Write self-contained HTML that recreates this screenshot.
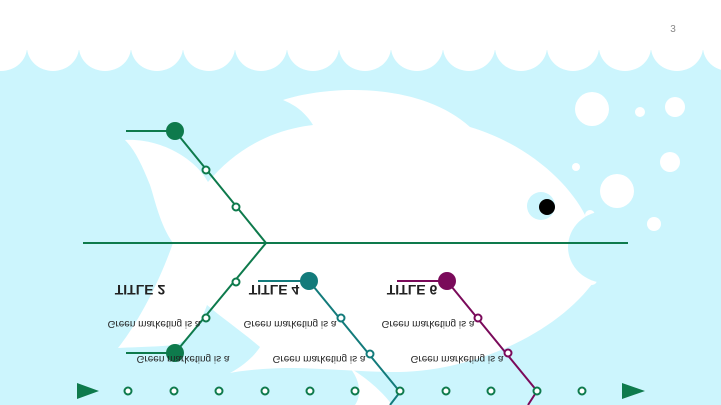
<!DOCTYPE html>
<html><head><meta charset="utf-8"><style>
html,body{margin:0;padding:0;width:721px;height:405px;overflow:hidden;background:#fff}
svg{display:block}
text{font-family:"Liberation Sans",sans-serif}
</style></head><body>
<svg width="721" height="405" viewBox="0 0 721 405" xmlns="http://www.w3.org/2000/svg">
<rect x="0" y="50" width="721" height="355" fill="#ccf5fd"/>
<g fill="#fff">
<ellipse cx="1" cy="47" rx="26" ry="24"/><ellipse cx="53" cy="47" rx="26" ry="24"/><ellipse cx="105" cy="47" rx="26" ry="24"/><ellipse cx="157" cy="47" rx="26" ry="24"/><ellipse cx="209" cy="47" rx="26" ry="24"/><ellipse cx="261" cy="47" rx="26" ry="24"/><ellipse cx="313" cy="47" rx="26" ry="24"/><ellipse cx="365" cy="47" rx="26" ry="24"/><ellipse cx="417" cy="47" rx="26" ry="24"/><ellipse cx="469" cy="47" rx="26" ry="24"/><ellipse cx="521" cy="47" rx="26" ry="24"/><ellipse cx="573" cy="47" rx="26" ry="24"/><ellipse cx="625" cy="47" rx="26" ry="24"/><ellipse cx="677" cy="47" rx="26" ry="24"/><ellipse cx="729" cy="47" rx="26" ry="24"/>
<rect x="0" y="0" width="721" height="50"/>
<circle cx="592" cy="109" r="17"/><circle cx="640" cy="112" r="5"/><circle cx="675" cy="107" r="10"/><circle cx="576" cy="167" r="4"/><circle cx="670" cy="162" r="10"/><circle cx="617" cy="191" r="17"/><circle cx="654" cy="224" r="7"/>
<!-- fish body -->
<path d="M283,100 C330,85 420,82 470,127 C530,145 570,185 585,215 L595,280 C560,330 480,370 400,372 C360,372 320,368 290,368 C270,368 245,370 230,373 C245,365 255,355 260,347 C240,330 222,318 207,305 C200,325 190,340 175,345 C155,347 135,347 118,348 C140,320 160,280 173,243 C160,225 155,200 150,185 C142,165 135,150 125,140 C160,138 195,158 208,182 C235,150 270,130 313,125 C305,112 295,105 283,100 Z"/>
<!-- bottom fin -->
<path d="M350,368 C370,380 385,395 392,405 L355,405 C362,395 360,380 350,368 Z"/>
<circle cx="590" cy="215" r="5"/><circle cx="592" cy="280" r="5"/>
</g>
<ellipse cx="606" cy="247" rx="38" ry="36" fill="#ccf5fd"/>
<circle cx="541" cy="206" r="14" fill="#ccf5fd"/>
<circle cx="547" cy="207" r="8" fill="#000"/>
<text x="673" y="32" font-size="10" fill="#888" text-anchor="middle">3</text>
<g stroke="#0e7a4c" stroke-width="2" fill="none">
<line x1="83" y1="243" x2="628" y2="243"/>
<polyline points="126,131 175,131 266,243 175,353 126,353"/>
</g>
<polyline points="258,281 309,281 400,392 390,405" stroke="#137b7b" stroke-width="2" fill="none"/>
<polyline points="397,281 447,281 537,391 528,405" stroke="#7a0a5a" stroke-width="2" fill="none"/>
<g fill="#0e7a4c"><circle cx="175" cy="131" r="9"/><circle cx="175" cy="353" r="9"/>
<polygon points="77,383 99,391 77,399"/><polygon points="622,383 645,391 622,399"/></g>
<circle cx="309" cy="281" r="9" fill="#137b7b"/>
<circle cx="447" cy="281" r="9" fill="#7a0a5a"/>
<g fill="#fff" stroke-width="2">
<g stroke="#0e7a4c"><circle cx="206" cy="170" r="3.5"/><circle cx="236" cy="207" r="3.5"/><circle cx="236" cy="282" r="3.5"/><circle cx="206" cy="318" r="3.5"/>
<circle cx="128" cy="391" r="3.5"/><circle cx="174" cy="391" r="3.5"/><circle cx="219" cy="391" r="3.5"/><circle cx="265" cy="391" r="3.5"/><circle cx="310" cy="391" r="3.5"/><circle cx="355" cy="391" r="3.5"/><circle cx="400" cy="391" r="3.5"/><circle cx="446" cy="391" r="3.5"/><circle cx="491" cy="391" r="3.5"/><circle cx="537" cy="391" r="3.5"/><circle cx="582" cy="391" r="3.5"/></g>
<g stroke="#137b7b"><circle cx="341" cy="318" r="3.5"/><circle cx="370" cy="354" r="3.5"/></g>
<g stroke="#7a0a5a"><circle cx="478" cy="318" r="3.5"/><circle cx="508" cy="353" r="3.5"/></g>
</g>
<g fill="#222" text-anchor="middle">
<text transform="translate(140,285) scale(1,-1)" font-size="14" font-weight="bold">TITLE 2</text>
<text transform="translate(154,321) scale(1,-1)" font-size="10">Green marketing is a</text>
<text transform="translate(183,356) scale(1,-1)" font-size="10">Green marketing is a</text>
<text transform="translate(274,285) scale(1,-1)" font-size="14" font-weight="bold">TITLE 4</text>
<text transform="translate(290,321) scale(1,-1)" font-size="10">Green marketing is a</text>
<text transform="translate(319,356) scale(1,-1)" font-size="10">Green marketing is a</text>
<text transform="translate(412,285) scale(1,-1)" font-size="14" font-weight="bold">TITLE 6</text>
<text transform="translate(428,321) scale(1,-1)" font-size="10">Green marketing is a</text>
<text transform="translate(457,356) scale(1,-1)" font-size="10">Green marketing is a</text>
</g>
</svg>
</body></html>
